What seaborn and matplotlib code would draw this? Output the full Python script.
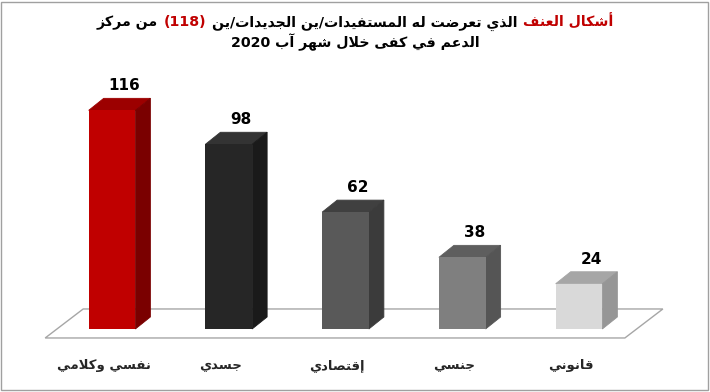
import re
import matplotlib
matplotlib.use("Agg")
import matplotlib.pyplot as plt
import matplotlib.patches as mpatches
import matplotlib.transforms as mtransforms
from matplotlib.offsetbox import TextArea, HPacker, VPacker, AnchoredOffsetbox
import seaborn as sns
import pandas as pd

# data
categories = ['نفسي وكلامي', 'جسدي', 'إقتصادي', 'جنسي', 'قانوني']
counts = [116, 98, 62, 38, 24]
title_line1 = ['أشكال العنف', 'الذي تعرضت له المستفيدات/ين الجديدات/ين', '(118)', 'من مركز']
title_line2 = 'الدعم في كفى خلال شهر آب 2020'

# colours (front / top / side faces)
front_colors = ['#c00000', '#262626', '#595959', '#7f7f7f', '#d9d9d9']
top_colors = ['#9c0000', '#333333', '#404040', '#5e5e5e', '#a6a6a6']
side_colors = ['#7a0000', '#1a1a1a', '#3b3b3b', '#555555', '#969696']
RED = '#c00000'

# --- small arabic shaper (matplotlib does no shaping / bidi) ---
ARABIC = {'ء': (0xFE80, 1), 'آ': (0xFE81, 2), 'أ': (0xFE83, 2), 'ؤ': (0xFE85, 2),
          'إ': (0xFE87, 2), 'ئ': (0xFE89, 4), 'ا': (0xFE8D, 2), 'ب': (0xFE8F, 4),
          'ة': (0xFE93, 2), 'ت': (0xFE95, 4), 'ث': (0xFE99, 4), 'ج': (0xFE9D, 4),
          'ح': (0xFEA1, 4), 'خ': (0xFEA5, 4), 'د': (0xFEA9, 2), 'ذ': (0xFEAB, 2),
          'ر': (0xFEAD, 2), 'ز': (0xFEAF, 2), 'س': (0xFEB1, 4), 'ش': (0xFEB5, 4),
          'ص': (0xFEB9, 4), 'ض': (0xFEBD, 4), 'ط': (0xFEC1, 4), 'ظ': (0xFEC5, 4),
          'ع': (0xFEC9, 4), 'غ': (0xFECD, 4), 'ف': (0xFED1, 4), 'ق': (0xFED5, 4),
          'ك': (0xFED9, 4), 'ل': (0xFEDD, 4), 'م': (0xFEE1, 4), 'ن': (0xFEE5, 4),
          'ه': (0xFEE9, 4), 'و': (0xFEED, 2), 'ى': (0xFEEF, 2), 'ي': (0xFEF1, 4)}
LAM_ALEF = {'آ': 0xFEF5, 'أ': 0xFEF7, 'إ': 0xFEF9, 'ا': 0xFEFB}


def shape(s):
    toks = []
    i = 0
    while i < len(s):
        if s[i] == 'ل' and i + 1 < len(s) and s[i + 1] in LAM_ALEF:
            toks.append(('LA', s[i + 1]))
            i += 2
        else:
            toks.append(('C', s[i]))
            i += 1

    def joins_next(t):
        return t[0] == 'C' and t[1] in ARABIC and ARABIC[t[1]][1] == 4

    def joins_prev(t):
        return t[0] == 'LA' or (t[1] in ARABIC and ARABIC[t[1]][1] >= 2)

    out = []
    for j, t in enumerate(toks):
        p = j > 0 and joins_next(toks[j - 1]) and joins_prev(t)
        q = j + 1 < len(toks) and joins_next(t) and joins_prev(toks[j + 1])
        if t[0] == 'LA':
            out.append(chr(LAM_ALEF[t[1]] + (1 if p else 0)))
        elif t[1] in ARABIC:
            base, nf = ARABIC[t[1]]
            if nf == 4:
                idx = {(0, 0): 0, (1, 0): 1, (0, 1): 2, (1, 1): 3}[(int(p), int(q))]
            elif nf == 2:
                idx = 1 if p else 0
            else:
                idx = 0
            out.append(chr(base + idx))
        else:
            out.append(t[1])
    return ''.join(out)


def visual(s):
    r = shape(s)[::-1]
    r = re.sub(r'[0-9]+', lambda m: m.group(0)[::-1], r)
    return r.translate(str.maketrans('()', ')('))


sns.set_style('white')
plt.rcParams['font.family'] = ['DejaVu Sans']

fig = plt.figure(figsize=(7.1, 3.92), dpi=100)
W, H = 710, 392
# axes placed in pixel terms
ax_l, ax_r, ax_t, ax_b = 40, 680, 70, 345
ax = fig.add_axes([ax_l / W, 1 - ax_b / H, (ax_r - ax_l) / W, (ax_b - ax_t) / H])

df = pd.DataFrame({'cat': categories, 'n': counts})
sns.barplot(data=df, x='cat', y='n', hue='cat', palette=dict(zip(categories, front_colors)),
            width=0.4, saturation=1, legend=False, ax=ax, zorder=4, linewidth=0)

ax.set_xlim(-0.617, 4.865)
ax.set_ylim(-8.5, 137.4)
sns.despine(ax=ax, left=True, bottom=True)
ax.set_yticks([])
ax.set_xticks(range(len(categories)))
ax.set_xticklabels([visual(c) for c in categories], fontsize=9.5, fontweight='bold')
ax.tick_params(axis='x', length=0, pad=10)
shift = mtransforms.ScaledTranslation(-6 / 72, 0, fig.dpi_scale_trans)
for lab in ax.get_xticklabels():
    lab.set_transform(lab.get_transform() + shift)
ax.set_xlabel('')
ax.set_ylabel('')

# pixel -> data conversion for the 3d depth
xr = ax.get_xlim()[1] - ax.get_xlim()[0]
yr = ax.get_ylim()[1] - ax.get_ylim()[0]
px_x = xr / (ax_r - ax_l)
px_y = yr / (ax_b - ax_t)
dx, dy = 15 * px_x, 12 * px_y

bars = sorted(ax.patches, key=lambda p: p.get_x())
for i, b in enumerate(bars):
    x0, w, h = b.get_x(), b.get_width(), b.get_height()
    x1 = x0 + w
    ax.add_patch(mpatches.Polygon([(x0, h), (x1, h), (x1 + dx, h + dy), (x0 + dx, h + dy)],
                                  closed=True, facecolor=top_colors[i], edgecolor=top_colors[i],
                                  lw=0.6, zorder=3))
    ax.add_patch(mpatches.Polygon([(x1, 0), (x1 + dx, dy), (x1 + dx, h + dy), (x1, h)],
                                  closed=True, facecolor=side_colors[i], edgecolor=side_colors[i],
                                  lw=0.6, zorder=3))
    ax.text(x0 + w / 2 + dx * 0.8, h + dy + 5 * px_y, str(counts[i]), ha='center', va='bottom',
            fontsize=11, fontweight='bold', color='black', zorder=5)

# floor plane
fl = bars[0].get_x() - 43.5 * px_x
fr = bars[-1].get_x() + bars[-1].get_width() + 22.5 * px_x
fy = -9 * px_y
fdx, fdy = 38 * px_x, 29 * px_y
ax.add_patch(mpatches.Polygon([(fl, fy), (fr, fy), (fr + fdx, fy + fdy), (fl + fdx, fy + fdy)],
                              closed=True, facecolor='white', edgecolor='#a6a6a6', lw=1,
                              zorder=1, clip_on=False))

# title with red parts
tprops = dict(fontsize=10.2, fontweight='bold')
colors1 = [RED, 'black', RED, 'black']
parts = [TextArea(visual(t), textprops=dict(color=c, **tprops))
         for t, c in zip(title_line1, colors1)][::-1]
line1 = HPacker(children=parts, align='baseline', pad=0, sep=4)
line2 = TextArea(visual(title_line2), textprops=dict(color='black', **tprops))
block = VPacker(children=[line1, line2], align='center', pad=0, sep=2)
fig.add_artist(AnchoredOffsetbox(loc='upper center', child=block, frameon=False,
                                 bbox_to_anchor=(0.5, 0.966), bbox_transform=fig.transFigure,
                                 borderpad=0, pad=0))

# outer border
fig.add_artist(mpatches.Rectangle((0.002, 0.004), 0.995, 0.99, transform=fig.transFigure,
                                  fill=False, edgecolor='#a0a0a0', lw=1))

fig.savefig('out.png', dpi=100)
